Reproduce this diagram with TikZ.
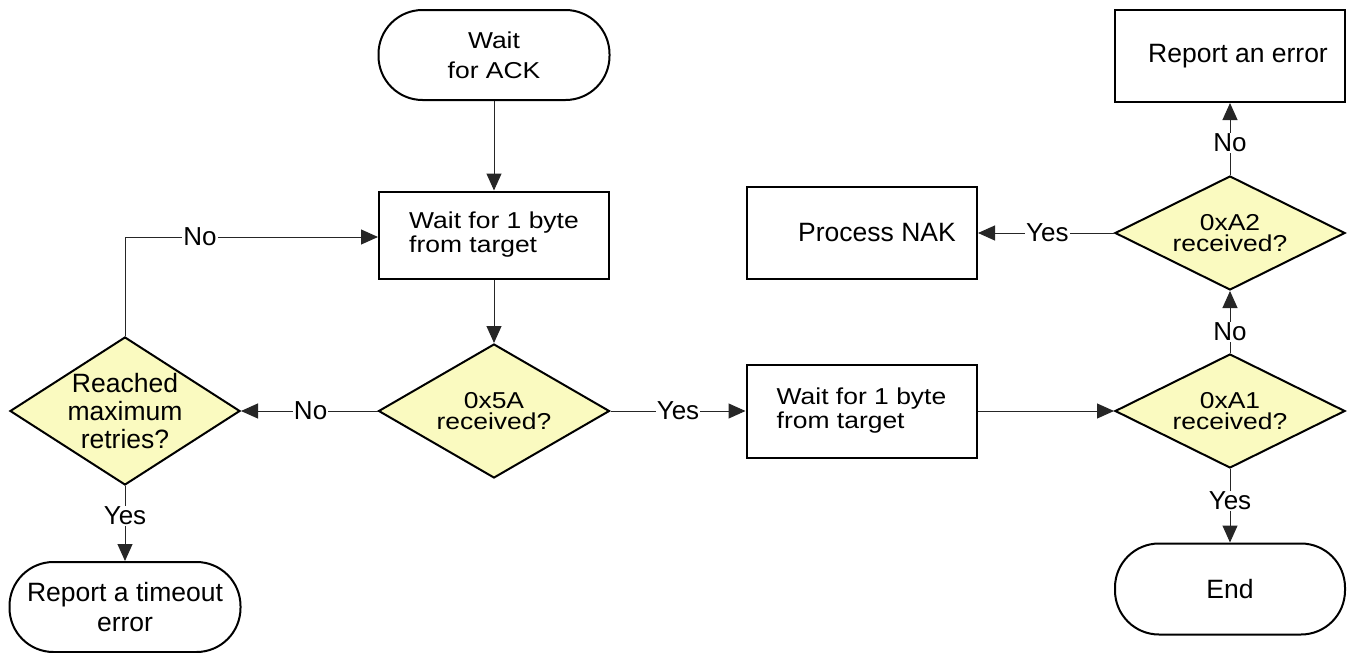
\documentclass[tikz,border=0pt]{standalone}
\usepackage{fontspec}
\setmainfont{Liberation Sans}
\newfontfamily\wfont[FakeStretch=1.15]{Liberation Sans}
\usetikzlibrary{shapes.geometric,arrows.meta}
\definecolor{diafill}{RGB}{250,250,192}
\tikzset{
  x=1pt, y=-1pt,
  shapeline/.style={draw=black, line width=2pt},
  stadium/.style={shapeline, rectangle, rounded corners=44pt, minimum width=231pt, minimum height=90pt, inner sep=0pt, align=center},
  procbox/.style={shapeline, rectangle, minimum width=230pt, inner sep=0pt},
  decision/.style={shapeline, diamond, fill=diafill, inner sep=0pt, minimum width=231pt},
  normtext/.style={font=\fontsize{26.5}{30}\selectfont},
  widetext/.style={font=\wfont\fontsize{23}{24}\selectfont},
  conn/.style={draw=black!85, line width=1pt, -{Triangle[length=17pt,width=15pt]}},
  edgelabel/.style={fill=white, inner sep=1pt, font=\fontsize{26}{30}\selectfont},
}
\begin{document}
\begin{tikzpicture}
\useasboundingbox (0,0) rectangle (1349,653);

% nodes
\node[stadium, font=\wfont\fontsize{23}{30}\selectfont] (ack) at (494,55) {Wait\\for ACK};
\node[procbox, minimum height=87pt, widetext, align=left] (box1) at (494,235) {Wait for 1 byte\\from target};
\node[decision, minimum height=134pt,
      label={[align=center, font=\wfont\fontsize{23}{21}\selectfont]center:0x5A\\received?}] (d5a) at (494,411) {};
\node[decision, minimum width=230pt, minimum height=148pt,
      label={[align=center, font=\fontsize{26.5}{28}\selectfont]center:Reached\\maximum\\retries?}] (dreach) at (125,411) {};
\node[stadium, normtext, minimum height=90pt] (tout) at (125,607) {Report a timeout\\error};
\node[procbox, minimum height=93pt, widetext, align=left] (box2) at (861.5,411) {Wait for 1 byte\\from target};
\node[decision, minimum width=230pt, minimum height=114pt,
      label={[align=center, font=\wfont\fontsize{23}{21}\selectfont]center:0xA1\\received?}] (da1) at (1230,411) {};
\node[stadium, normtext, minimum width=230pt, minimum height=91pt] (end) at (1230,589) {End};
\node[decision, minimum width=230pt, minimum height=114pt,
      label={[align=center, font=\wfont\fontsize{23}{21}\selectfont]center:0xA2\\received?}] (da2) at (1230,233) {};
\node[procbox, minimum height=92pt,
      label={[normtext, xshift=15pt]center:Process NAK}] (nak) at (862,233) {};
\node[procbox, minimum height=92pt,
      label={[normtext, xshift=8pt]center:Report an error}] (err) at (1230,56) {};

% connectors
\draw[conn] (ack) -- (box1);
\draw[conn] (box1) -- (d5a);
\draw[conn] (d5a.west) -- node[edgelabel, pos=0.49] {No} (dreach.east);
\draw[conn] (dreach.north) |- node[edgelabel, pos=0.648] {No} ([yshift=-2pt]box1.west);
\draw[conn] (dreach.south) -- node[edgelabel, pos=0.4] {Yes} (tout.north);
\draw[conn] (d5a.east) -- node[edgelabel, pos=0.5] {Yes} (box2.west);
\draw[conn] (box2.east) -- (da1.west);
\draw[conn] (da1.south) -- node[edgelabel, pos=0.43] {Yes} (end.north);
\draw[conn] (da1.north) -- node[edgelabel, pos=0.34] {No} (da2.south);
\draw[conn] (da2.north) -- node[edgelabel, pos=0.45] {No} (err.south);
\draw[conn] (da2.west) -- node[edgelabel, pos=0.49] {Yes} (nak.east);
\end{tikzpicture}
\end{document}
